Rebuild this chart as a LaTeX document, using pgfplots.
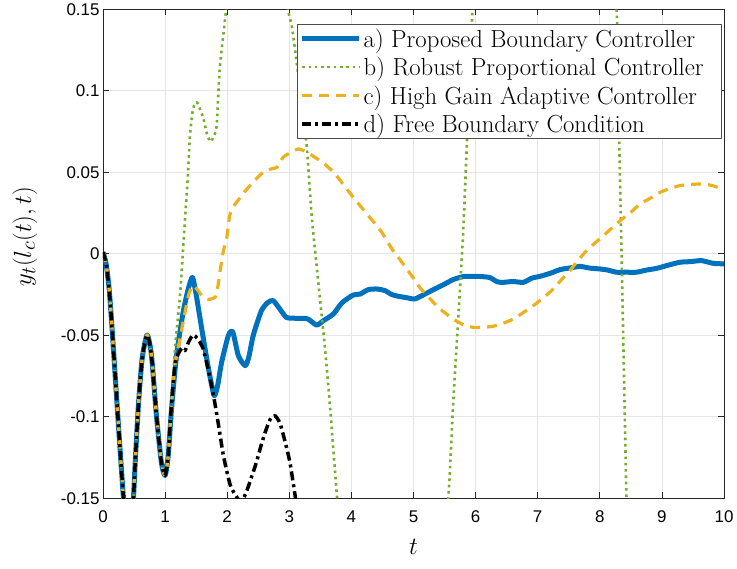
\documentclass[border=0pt]{standalone}
\usepackage{fontspec}
\usepackage{pgfplots}
\pgfplotsset{compat=1.18}
\newfontfamily\ticksf{Liberation Sans}

\definecolor{mblue}{rgb}{0,0.447,0.741}
\definecolor{morange}{rgb}{0.929,0.694,0.125}
\definecolor{mgreen}{rgb}{0.466,0.674,0.188}
\definecolor{axgray}{rgb}{0.15,0.15,0.15}

\begin{document}
\begin{tikzpicture}
\begin{axis}[
  name=main,
  scale only axis, width=621bp, height=489bp,
  xmin=0, xmax=10, ymin=-0.15, ymax=0.15,
  xtick={0,1,2,3,4,5,6,7,8,9,10},
  xticklabels={0,1,2,3,4,5,6,7,8,9,10},
  ytick={-0.15,-0.1,-0.05,0,0.05,0.1,0.15},
  yticklabels={-0.15,-0.1,-0.05,0,0.05,0.1,0.15},
  tick label style={font=\ticksf\fontsize{17}{20}\selectfont},
  xticklabel style={yshift=-9bp},
  grid=major,
  major grid style={color=black!10, line width=0.7bp},
  tick pos=both, tick align=inside, major tick length=6bp,
  axis line style={axgray, line width=0.8bp},
  every tick/.style={axgray, line width=0.8bp},
  xlabel={$t$}, ylabel={$y_t(l_c(t),t)$},
  label style={font=\fontsize{24.88}{29}\selectfont},
  xlabel style={at={(rel axis cs:0.5,-0.1)}, anchor=center},
  ylabel style={at={(rel axis cs:-0.1256,0.535)}, anchor=center},
  legend style={at={(rel axis cs:0.9968,0.9693)}, anchor=north east,
    font=\fontsize{24.8}{29}\selectfont, draw=black!70, line width=0.8bp,
    inner sep=2bp, row sep=4.5bp},
  legend cell align=left,
  legend image code/.code={\draw[#1] (0bp,0bp) -- (57bp,0bp);},
  line join=round,
]
% a) proposed boundary controller
\addplot[mblue, line width=5bp, smooth, tension=0.4] coordinates {
(0,0.001) (0.05,-0.006) (0.1,-0.022) (0.15,-0.048) (0.2,-0.077) (0.25,-0.106)
(0.3,-0.134) (0.33,-0.150) (0.37,-0.165) (0.41,-0.170) (0.45,-0.165) (0.49,-0.150)
(0.52,-0.127) (0.57,-0.093) (0.63,-0.0645) (0.71,-0.0498) (0.78,-0.062) (0.86,-0.099)
(0.94,-0.128) (1.0,-0.136) (1.05,-0.124) (1.10,-0.097)
(1.16,-0.071) (1.21,-0.055) (1.29,-0.036) (1.37,-0.022) (1.44,-0.0144) (1.50,-0.025)
(1.59,-0.046) (1.70,-0.0707) (1.79,-0.087) (1.85,-0.080) (1.91,-0.0666) (2.02,-0.050)
(2.09,-0.048) (2.18,-0.0625) (2.29,-0.0686) (2.35,-0.063) (2.42,-0.050) (2.55,-0.035)
(2.65,-0.030) (2.74,-0.0287) (2.85,-0.034) (2.95,-0.039) (3.05,-0.0395) (3.17,-0.0396)
(3.30,-0.040) (3.44,-0.0437) (3.55,-0.041) (3.71,-0.0369) (3.85,-0.030) (4.03,-0.0253)
(4.14,-0.0247) (4.27,-0.022) (4.41,-0.0216) (4.54,-0.0226) (4.65,-0.025) (4.76,-0.0261)
(4.90,-0.027) (5.02,-0.0277) (5.17,-0.025) (5.32,-0.022) (5.48,-0.019) (5.64,-0.0158)
(5.80,-0.014) (5.94,-0.0138) (6.10,-0.014) (6.23,-0.0146) (6.35,-0.0172) (6.45,-0.0175)
(6.60,-0.017) (6.77,-0.0175) (6.90,-0.015) (7.04,-0.0138) (7.20,-0.012) (7.36,-0.0097)
(7.52,-0.0087) (7.68,-0.0077) (7.84,-0.0088) (8.00,-0.0093) (8.13,-0.010) (8.27,-0.0113)
(8.43,-0.0113) (8.59,-0.0113) (8.75,-0.010) (8.92,-0.0089) (9.10,-0.007) (9.29,-0.0052)
(9.46,-0.0048) (9.64,-0.0042) (9.82,-0.0058) (10.0,-0.0062)
};
\addlegendentry{a) Proposed Boundary Controller}
% b) robust proportional controller
\addplot[mgreen, line width=2.6bp, dash pattern=on 2.6bp off 3.7bp, smooth, tension=0.4] coordinates {
(0,0.001) (0.05,-0.006) (0.1,-0.022) (0.15,-0.048) (0.2,-0.077) (0.25,-0.106)
(0.3,-0.134) (0.33,-0.150) (0.37,-0.165) (0.41,-0.170) (0.45,-0.165) (0.49,-0.150)
(0.52,-0.127) (0.57,-0.093) (0.63,-0.0645) (0.71,-0.0498) (0.78,-0.062) (0.86,-0.099)
(0.94,-0.128) (1.0,-0.136) (1.05,-0.124) (1.10,-0.095)
(1.16,-0.058) (1.24,-0.0257) (1.31,0.015) (1.37,0.050) (1.40,0.0725) (1.45,0.0889)
(1.51,0.093) (1.56,0.089) (1.62,0.0827) (1.67,0.074) (1.73,0.0688) (1.78,0.072)
(1.83,0.0786) (1.88,0.1136) (1.98,0.149) (2.05,0.18) (2.30,0.25) (2.50,0.27)
(2.70,0.25) (2.90,0.18) (2.98,0.149) (3.04,0.14) (3.16,0.105) (3.28,0.066)
(3.36,0.0234) (3.44,-0.0072) (3.50,-0.030) (3.57,-0.056) (3.65,-0.091) (3.77,-0.150)
(3.90,-0.21) (4.7,-0.40) (5.40,-0.21) (5.56,-0.150) (5.64,-0.091) (5.72,-0.040)
(5.80,0.013) (5.86,0.068) (5.95,0.15) (6.1,0.25) (7.1,0.5) (8.1,0.25)
(8.27,0.15) (8.31,0.075) (8.35,0.0) (8.39,-0.075) (8.43,-0.15) (8.50,-0.25)
(9.3,-0.7) (10,-0.6)
};
\addlegendentry{b) Robust Proportional Controller\rule{14bp}{0pt}}
% c) high gain adaptive controller
\addplot[morange, line width=3.2bp, dash pattern=on 10bp off 7bp, smooth, tension=0.4] coordinates {
(0,0.001) (0.05,-0.006) (0.1,-0.022) (0.15,-0.048) (0.2,-0.077) (0.25,-0.106)
(0.3,-0.134) (0.33,-0.150) (0.37,-0.165) (0.41,-0.170) (0.45,-0.165) (0.49,-0.150)
(0.52,-0.127) (0.57,-0.093) (0.63,-0.0645) (0.71,-0.0498) (0.78,-0.062) (0.86,-0.099)
(0.94,-0.128) (1.0,-0.136) (1.05,-0.124) (1.10,-0.094)
(1.16,-0.068) (1.21,-0.058) (1.30,-0.040) (1.38,-0.025) (1.45,-0.0195) (1.52,-0.022)
(1.60,-0.026) (1.70,-0.028) (1.79,-0.027) (1.83,-0.0247) (1.88,-0.012) (1.94,0.002)
(1.99,0.009) (2.04,0.0234) (2.10,0.029) (2.18,0.033) (2.28,0.038) (2.37,0.042)
(2.47,0.046) (2.58,0.050) (2.70,0.052) (2.80,0.053) (2.90,0.0592) (3.02,0.062)
(3.15,0.0643) (3.30,0.062) (3.42,0.059) (3.55,0.0556) (3.66,0.052) (3.76,0.048)
(3.90,0.041) (4.03,0.0347) (4.14,0.0295) (4.25,0.0244) (4.37,0.019) (4.49,0.0132)
(4.58,0.0075) (4.67,0.002) (4.78,-0.0035) (4.89,-0.0093) (5.00,-0.015) (5.10,-0.0206)
(5.23,-0.026) (5.37,-0.0318) (5.50,-0.036) (5.64,-0.040) (5.80,-0.0435) (5.96,-0.0451)
(6.12,-0.045) (6.28,-0.0445) (6.45,-0.0425) (6.61,-0.040) (6.77,-0.036) (6.93,-0.0318)
(7.09,-0.027) (7.25,-0.0216) (7.38,-0.016) (7.52,-0.0103) (7.65,-0.004) (7.79,0.002)
(7.92,0.0065) (8.06,0.0112) (8.20,0.016) (8.33,0.0204) (8.50,0.0255) (8.65,0.0306)
(8.81,0.034) (8.97,0.0377) (9.13,0.040) (9.29,0.0418) (9.45,0.0425) (9.61,0.0428)
(9.80,0.042) (10.0,0.0394)
};
\addlegendentry{c) High Gain Adaptive Controller}
% d) free boundary condition
\addplot[black, line width=3.5bp, dash pattern=on 9bp off 4bp on 3bp off 4bp, smooth, tension=0.4] coordinates {
(0,0.001) (0.05,-0.006) (0.1,-0.022) (0.15,-0.048) (0.2,-0.077) (0.25,-0.106)
(0.3,-0.134) (0.33,-0.150) (0.37,-0.165) (0.41,-0.170) (0.45,-0.165) (0.49,-0.150)
(0.52,-0.127) (0.57,-0.093) (0.63,-0.0645) (0.71,-0.0498) (0.78,-0.062) (0.86,-0.099)
(0.94,-0.128) (1.0,-0.136) (1.05,-0.124) (1.10,-0.094)
(1.16,-0.068) (1.21,-0.0615) (1.27,-0.058) (1.32,-0.0594) (1.38,-0.054) (1.45,-0.0498)
(1.52,-0.052) (1.61,-0.058) (1.70,-0.072) (1.78,-0.087) (1.86,-0.105) (1.94,-0.124)
(2.05,-0.142) (2.15,-0.149) (2.22,-0.152) (2.30,-0.147) (2.40,-0.136) (2.47,-0.128)
(2.55,-0.117) (2.63,-0.1075) (2.70,-0.101) (2.77,-0.0993) (2.85,-0.104) (2.93,-0.115)
(3.01,-0.128) (3.10,-0.150) (3.25,-0.19) (3.4,-0.25)
};
\addlegendentry{d) Free Boundary Condition}
\end{axis}
% page frame around the axis
\path (main.south west) ++(-103bp,-70bp) rectangle ++(737bp,566bp);
\end{tikzpicture}
\end{document}
